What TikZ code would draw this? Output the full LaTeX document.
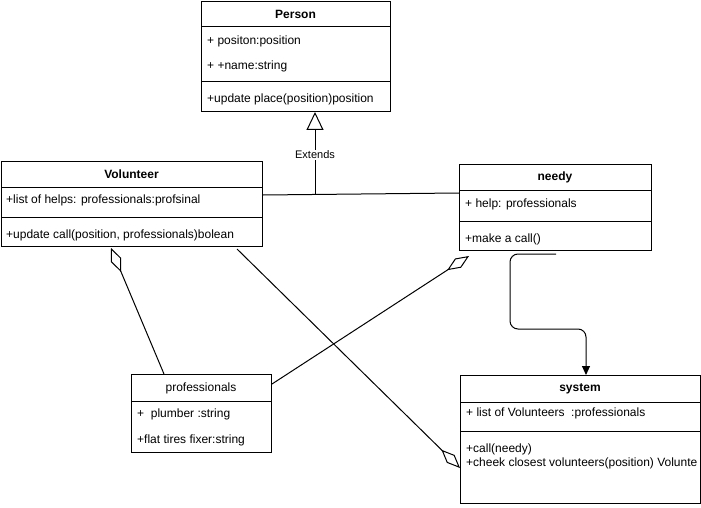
\documentclass[tikz,border=0pt]{standalone}
\usepackage{fontspec}
\setmainfont{Liberation Sans}
\usetikzlibrary{arrows.meta,calc}
\tikzset{
  umlbox/.style={draw, line width=1pt, inner sep=0pt, anchor=north west},
  sep/.style={line width=1pt},
  title/.style={font=\fontsize{12}{14}\selectfont\bfseries, inner sep=0pt},
  plaintitle/.style={font=\fontsize{12}{14}\selectfont, inner sep=0pt},
  row/.style={font=\fontsize{12}{14}\selectfont, inner sep=0pt, anchor=west},
  conn/.style={line width=1pt},
  agg/.style={conn, -{Diamond[open, length=26pt, width=11pt, line width=1pt]}},
  gen/.style={conn, -{Triangle[open, length=18pt, width=17pt, line width=1pt]}},
  flow/.style={conn, rounded corners=8pt, -{Triangle[length=9pt, width=8pt]}},
}
\begin{document}
\begin{tikzpicture}[x=1pt, y=-1pt]
\useasboundingbox (0,0) rectangle (701,508);

% Person
\node[umlbox, minimum width=189pt, minimum height=110pt] (person) at (201,1) {};
\draw[sep] (201,27) -- (390,27);
\draw[sep] (201,82) -- (390,82);
\node[title] (personT) at (295.5,14) {Person};
\node[row] (p1) at (207,41) {+ positon:position};
\node[row] (p2) at (207,66) {+ +name:string};
\node[row] (p3) at (207,99) {+update place(position)position};

% Volunteer
\node[umlbox, minimum width=261pt, minimum height=85pt] (vol) at (1,161) {};
\draw[sep] (1,187) -- (262,187);
\draw[sep] (1,217) -- (262,217);
\node[title] (volT) at (131.5,174) {Volunteer};
\node[row] (v1) at (6,200) {+list of helps: professionals:profsinal};
\node[row] (v2) at (6,235) {+update call(position, professionals)bolean};

% needy
\node[umlbox, minimum width=192pt, minimum height=86pt] (needy) at (459,164) {};
\draw[sep] (459,190) -- (651,190);
\draw[sep] (459,221) -- (651,221);
\node[title] (needyT) at (555,177) {needy};
\node[row] (n1) at (465,204) {+ help: professionals};
\node[row] (n2) at (465,239) {+make a call()};

% professionals
\node[umlbox, minimum width=140pt, minimum height=78pt] (prof) at (131,374) {};
\draw[sep] (131,401) -- (271,401);
\node[plaintitle] (profT) at (201,388) {professionals};
\node[row] (r1) at (137,414) {+\ \ plumber :string};
\node[row] (r2) at (137,440) {+flat tires fixer:string};

% system
\node[umlbox, minimum width=240pt, minimum height=128pt] (sys) at (460,375) {};
\draw[sep] (460,402) -- (700,402);
\draw[sep] (460,431) -- (700,431);
\node[title] (sysT) at (580,389) {system};
\node[row] (s1) at (466,413) {+ list of Volunteers\ \ :professionals};
\node[row] (s2) at (466,449) {+call(needy)};
\node[row] (s3) at (466,463) {+cheek closest volunteers(position) Volunte};

% generalisation towards Person
\draw[conn] ($(vol.north east)+(0,34)$) -- ($(needy.north west)+(0,29)$);
\coordinate (genfoot) at (315,194);
\draw[gen] (genfoot) -- (genfoot |- person.south);
\node[font=\fontsize{11}{13}\selectfont, fill=white, inner sep=1pt] (ext) at (315,155) {Extends};

% aggregations
\draw[agg] ($(prof.north west)+(33,0)$) -- ($(vol.south west)+(110,1)$);
\draw[agg] ($(prof.north east)+(0,10)$) -- ($(needy.south west)+(10,5)$);
\draw[agg] ($(vol.south west)+(236,2)$) -- ($(sys.north west)+(0,93)$);

% call flow from needy to system
\coordinate (callstart) at (556,254);
\draw[flow] (callstart) -- (510,254) -- (510,329) -- (586,329) -- ($(sys.north west)+(126,0)$);
\end{tikzpicture}
\end{document}
